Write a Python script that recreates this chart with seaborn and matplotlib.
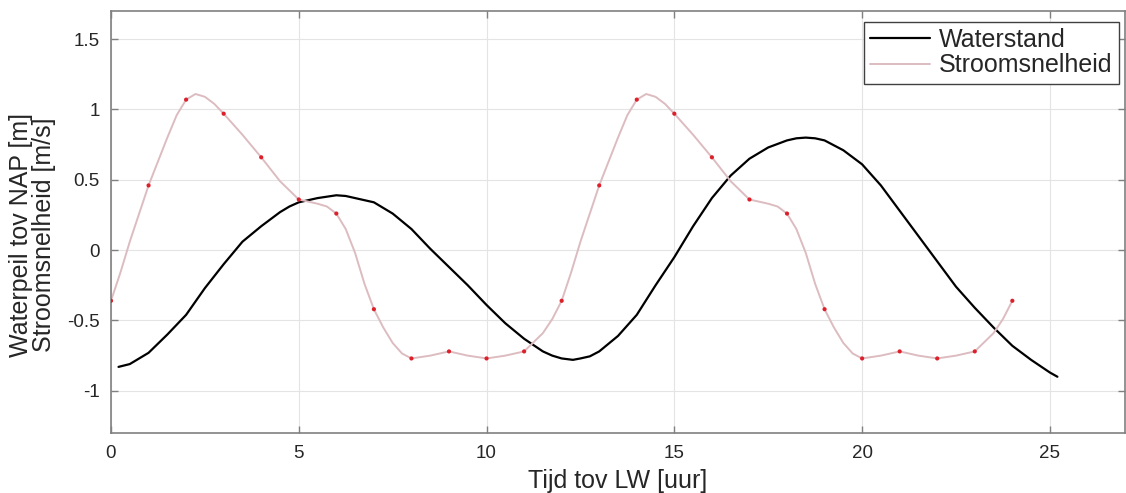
import matplotlib
matplotlib.use("Agg")
import matplotlib.pyplot as plt
import numpy as np
import pandas as pd
import seaborn as sns

# Waterstand (black curve)
wt_uur = [0.2, 0.5, 1.0, 1.5, 2.0, 2.5, 3.0, 3.5, 4.0, 4.5, 4.75, 5.0, 5.5, 5.75, 6.0,
          6.25, 6.5, 7.0, 7.25, 7.5, 8.0, 8.5, 9.0, 9.5, 10.0, 10.5, 11.0, 11.5,
          11.75, 12.0, 12.3, 12.5, 12.75, 13.0, 13.5, 14.0, 14.5, 15.0, 15.5, 16.0,
          16.5, 17.0, 17.5, 18.0, 18.25, 18.5, 18.75, 19.0, 19.5, 20.0, 20.5, 21.0,
          21.5, 22.0, 22.5, 23.0, 23.5, 24.0, 24.5, 25.0, 25.2]
waterstand = [-0.83, -0.81, -0.73, -0.60, -0.46, -0.27, -0.10, 0.06, 0.17, 0.27, 0.31,
              0.34, 0.37, 0.38, 0.39, 0.385, 0.37, 0.34, 0.30, 0.26, 0.15, 0.01, -0.12,
              -0.25, -0.39, -0.52, -0.63, -0.72, -0.75, -0.77, -0.78, -0.77, -0.755,
              -0.72, -0.61, -0.46, -0.25, -0.05, 0.17, 0.37, 0.53, 0.65, 0.73, 0.78,
              0.795, 0.80, 0.795, 0.78, 0.71, 0.61, 0.46, 0.28, 0.10, -0.08, -0.26,
              -0.41, -0.55, -0.68, -0.78, -0.87, -0.90]

# Stroomsnelheid curve (pale line)
st_uur = [0, 0.25, 0.5, 1, 1.5, 1.75, 2, 2.25, 2.5, 2.75, 3, 3.5, 4, 4.5, 5, 5.25,
          5.5, 5.75, 6, 6.25, 6.5, 6.75, 7, 7.25, 7.5, 7.75, 8, 8.5, 9, 9.5, 10,
          10.5, 11, 11.5, 11.75, 12, 12.25, 12.5, 13, 13.5, 13.75, 14, 14.25, 14.5,
          14.75, 15, 15.5, 16, 16.5, 17, 17.25, 17.5, 17.75, 18, 18.25, 18.5, 18.75,
          19, 19.25, 19.5, 19.75, 20, 20.5, 21, 21.5, 22, 22.5, 23, 23.5, 23.75, 24]
stroom = [-0.36, -0.16, 0.06, 0.46, 0.80, 0.96, 1.07, 1.11, 1.09, 1.04, 0.97, 0.82,
          0.66, 0.49, 0.36, 0.345, 0.33, 0.31, 0.26, 0.15, -0.02, -0.24, -0.42, -0.55,
          -0.66, -0.735, -0.77, -0.75, -0.72, -0.75, -0.77, -0.75, -0.72, -0.59,
          -0.49, -0.36, -0.16, 0.06, 0.46, 0.80, 0.96, 1.07, 1.11, 1.09, 1.04, 0.97,
          0.82, 0.66, 0.49, 0.36, 0.345, 0.33, 0.31, 0.26, 0.15, -0.02, -0.24, -0.42,
          -0.55, -0.66, -0.735, -0.77, -0.75, -0.72, -0.75, -0.77, -0.75, -0.72,
          -0.59, -0.49, -0.36]

# Stroomsnelheid measured points (red dots, hourly)
punt_uur = list(range(25))
stroom_punt = [-0.36, 0.46, 1.07, 0.97, 0.66, 0.36, 0.26, -0.42, -0.77, -0.72, -0.77,
               -0.72, -0.36, 0.46, 1.07, 0.97, 0.66, 0.36, 0.26, -0.42, -0.77, -0.72,
               -0.77, -0.72, -0.36]

sns.set_theme(style="whitegrid")
plt.rcParams["font.family"] = ["Liberation Sans", "DejaVu Sans"]

df_w = pd.DataFrame({"uur": wt_uur, "waarde": waterstand})
df_s = pd.DataFrame({"uur": st_uur, "waarde": stroom})
df_p = pd.DataFrame({"uur": punt_uur, "waarde": stroom_punt})

fig = plt.figure(figsize=(11.26, 4.93), dpi=100)
ax = fig.add_axes([111 / 1126, 60 / 493, (1125 - 111) / 1126, 422 / 493])

sns.lineplot(data=df_w, x="uur", y="waarde", ax=ax, color="black", linewidth=1.6,
             sort=False, estimator=None, label="Waterstand")
sns.lineplot(data=df_s, x="uur", y="waarde", ax=ax, color="#dcbcc0", linewidth=1.4,
             sort=False, estimator=None, label="Stroomsnelheid")
sns.scatterplot(data=df_p, x="uur", y="waarde", ax=ax, color="#dd1f2a", s=9,
                edgecolor="none", zorder=5, legend=False)

ax.set_xlim(0, 27)
ax.set_ylim(-1.3, 1.7)
ax.set_xticks([0, 5, 10, 15, 20, 25])
ax.set_yticks([-1, -0.5, 0, 0.5, 1, 1.5])
ax.set_xticklabels(["0", "5", "10", "15", "20", "25"])
ax.set_yticklabels(["-1", "-0.5", "0", "0.5", "1", "1.5"])

ax.grid(True, color="#e4e4e4", linewidth=0.8)
for s in ax.spines.values():
    s.set_visible(True)
    s.set_color("#808080")
    s.set_linewidth(1.2)
ax.tick_params(axis="both", which="both", direction="in", length=5, width=1,
               color="#808080", labelsize=13.5, labelcolor="#262626",
               top=True, right=True, bottom=True, left=True)
ax.tick_params(axis="x", pad=9)
ax.tick_params(axis="y", pad=8)

ax.set_xlabel("Tijd tov LW [uur]", fontsize=18, color="#262626", labelpad=5)
ax.set_ylabel("Waterpeil tov NAP [m]\nStroomsnelheid [m/s]", fontsize=18,
              color="#262626", linespacing=0.95)
ax.yaxis.set_label_coords(-0.054, 0.47)

leg = ax.legend(loc="upper right", bbox_to_anchor=(0.994, 0.974), borderaxespad=0,
                fontsize=18, fancybox=False, framealpha=1, edgecolor="#404040",
                handlelength=2.4, handletextpad=0.35, borderpad=0.25, labelspacing=0.05)
leg.get_frame().set_linewidth(1.0)

fig.savefig("out.png", dpi=100)
